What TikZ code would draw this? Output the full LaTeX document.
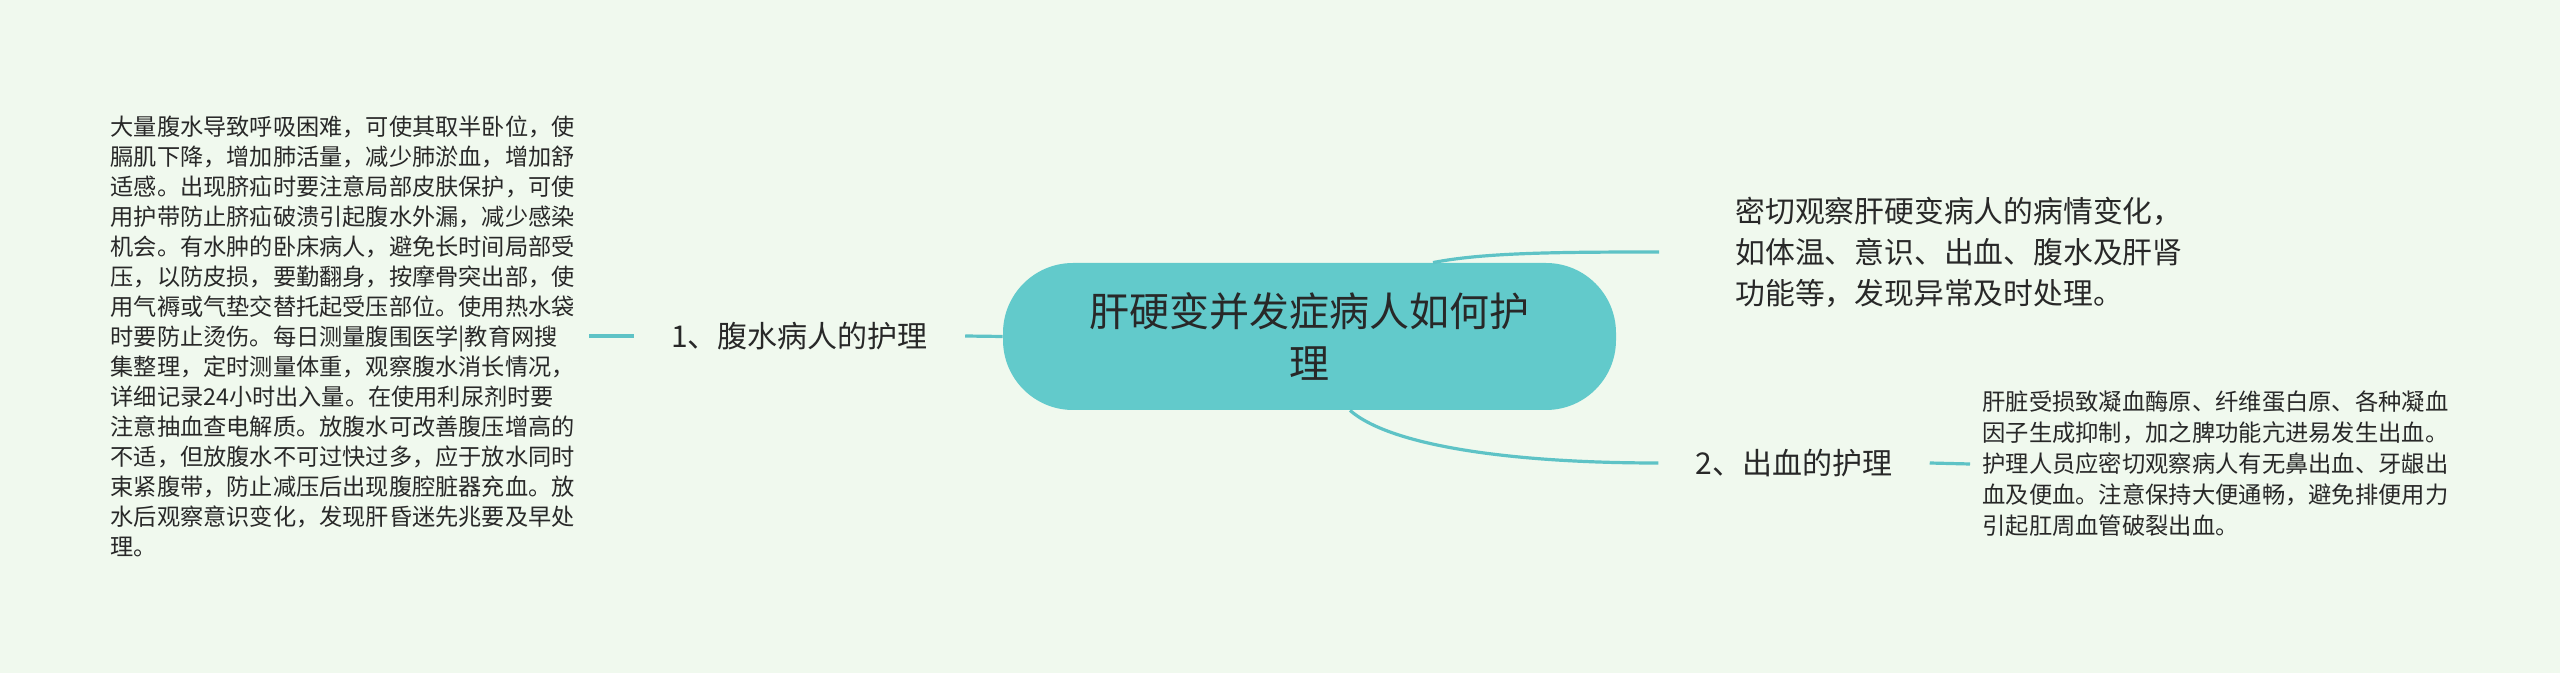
\documentclass[tikz,border=0pt]{standalone}
\usepackage{fontspec}
\setmainfont{Noto Sans CJK SC}
\definecolor{bgc}{RGB}{240,249,238}
\definecolor{teal1}{RGB}{98,202,203}
\definecolor{line1}{RGB}{94,195,198}
\definecolor{txt}{RGB}{40,40,40}
\begin{document}
\begin{tikzpicture}[x=0.5pt,y=-0.5pt,
  conn/.style={draw=line1,line width=1.6pt},
  mainbox/.style={fill=teal1,draw=none,rounded corners=35pt,minimum width=306.5pt,minimum height=73.5pt,align=center,text=txt,font=\fontsize{20pt}{26pt}\selectfont},
  lvlone/.style={text=txt,inner xsep=18.5pt,inner ysep=4pt,font=\fontsize{15pt}{20.5pt}\selectfont},
  leaf/.style={text=txt,align=left,inner ysep=2pt}]
\useasboundingbox (0,0) rectangle (2560,673);
\fill[bgc] (0,0) rectangle (2560,673);

\node[mainbox] (c) at (1309.5,336.5) {肝硬变并发症病人如何护\\理};

\node[lvlone] (l1) at (799.5,336) {1、腹水病人的护理};
\node[leaf,anchor=east,inner xsep=7pt,font=\fontsize{11.6pt}{15pt}\selectfont] (t1) at (589,336) {大量腹水导致呼吸困难，可使其取半卧位，使\\膈肌下降，增加肺活量，减少肺淤血，增加舒\\适感。出现脐疝时要注意局部皮肤保护，可使\\用护带防止脐疝破溃引起腹水外漏，减少感染\\机会。有水肿的卧床病人，避免长时间局部受\\压，以防皮损，要勤翻身，按摩骨突出部，使\\用气褥或气垫交替托起受压部位。使用热水袋\\时要防止烫伤。每日测量腹围医学|教育网搜\\集整理，定时测量体重，观察腹水消长情况，\\详细记录24小时出入量。在使用利尿剂时要\\注意抽血查电解质。放腹水可改善腹压增高的\\不适，但放腹水不可过快过多，应于放水同时\\束紧腹带，防止减压后出现腹腔脏器充血。放\\水后观察意识变化，发现肝昏迷先兆要及早处\\理。};

\node[leaf,anchor=west,inner xsep=38pt,font=\fontsize{14.9pt}{20.5pt}\selectfont] (t2) at (1659,252) {密切观察肝硬变病人的病情变化，\\如体温、意识、出血、腹水及肝肾\\功能等，发现异常及时处理。};

\node[lvlone] (l2) at (1794,463) {2、出血的护理};
\node[leaf,anchor=west,inner xsep=6pt,font=\fontsize{11.65pt}{15.5pt}\selectfont] (t3) at (1970,464) {肝脏受损致凝血酶原、纤维蛋白原、各种凝血\\因子生成抑制，加之脾功能亢进易发生出血。\\护理人员应密切观察病人有无鼻出血、牙龈出\\血及便血。注意保持大便通畅，避免排便用力\\引起肛周血管破裂出血。};

\draw[conn] (c.west) -- (l1.east);
\draw[conn] (l1.west) -- (t1.east);
\draw[conn] ([xshift=61.75pt]c.north) .. controls +(50,-10) and +(-100,0) .. (t2.west);
\draw[conn] ([xshift=20.25pt]c.south) .. controls +(40,35) and +(-150,0) .. (l2.west);
\draw[conn] (l2.east) -- (t3.west);
\end{tikzpicture}
\end{document}
